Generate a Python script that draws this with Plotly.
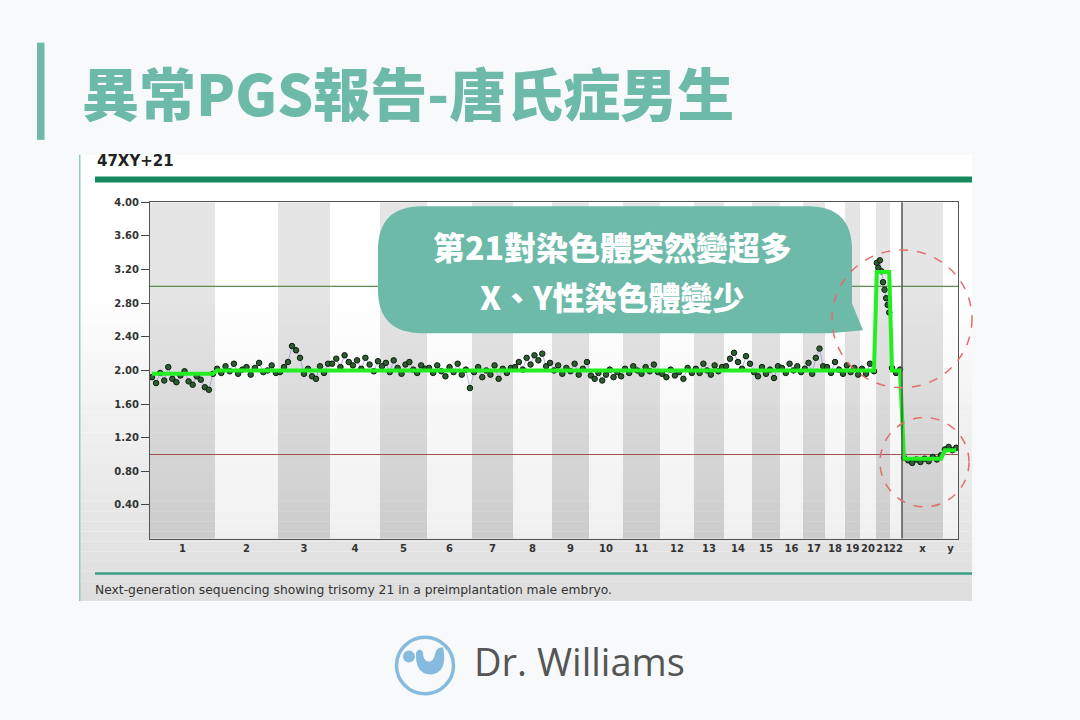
import plotly.graph_objects as go

# ---------------- data ----------------
CHROM_LABELS = ['1', '2', '3', '4', '5', '6', '7', '8', '9', '10', '11', '12',
                '13', '14', '15', '16', '17', '18', '19', '20', '21', '22', 'x', 'y']
# relative width of each chromosome on the genome axis (bins)
CHROM_WIDTHS = [65, 63, 52, 50, 47, 45, 41, 39, 37, 34, 37, 34,
                30, 28, 28, 23, 22, 20, 15, 16, 14, 12, 41, 15]
# fitted copy-number level per chromosome (green segments)
SEGMENT_LEVELS = [1.96, 2.0, 2.0, 2.0, 2.0, 2.0, 2.0, 2.0, 2.0, 2.0, 2.0, 2.0,
                  2.0, 2.0, 2.0, 2.0, 2.0, 2.0, 2.0, 2.0, 3.17, 2.0, 0.95, 1.05]

chr1 = [1.92, 1.85, 1.97, 1.88, 2.04, 1.90, 1.86, 1.94, 1.99, 1.87, 1.83, 1.93, 1.89, 1.80, 1.77, 1.96]
chr2 = [2.02, 1.97, 2.05, 1.99, 2.08, 1.96, 2.01, 2.04, 1.95, 2.03, 2.09, 1.98, 2.00, 2.06, 1.97]
chr3 = [1.98, 2.04, 2.10, 2.29, 2.24, 2.15, 1.96, 2.02, 1.93, 1.90, 2.05, 1.97, 2.08]
chr4 = [2.08, 2.14, 2.04, 2.18, 2.10, 2.06, 2.12, 2.02, 2.15, 2.07, 1.99, 2.11]
chr5 = [2.05, 2.09, 1.98, 2.12, 2.03, 1.96, 2.07, 2.10, 2.01, 1.97, 2.06, 2.02]
chr6 = [2.03, 1.97, 2.06, 1.99, 1.93, 2.04, 1.98, 2.08, 1.95, 2.01, 1.79]
chr7 = [1.98, 2.04, 1.92, 2.00, 1.95, 2.06, 1.90, 2.02, 1.97, 2.03]
chr8 = [2.04, 2.10, 2.01, 2.15, 2.07, 2.18, 2.12, 2.20, 2.05, 2.09]
chr9 = [2.00, 2.06, 1.96, 2.03, 1.99, 2.08, 1.95, 2.02, 2.10]
chr10 = [1.94, 1.90, 1.97, 1.88, 1.95, 2.01, 1.92, 1.98, 1.93]
chr11 = [2.02, 1.97, 2.05, 2.00, 1.96, 2.04, 1.99, 2.07, 1.98]
chr12 = [1.96, 1.92, 2.01, 1.94, 1.98, 1.90, 2.03, 1.97]
chr13 = [2.02, 1.97, 2.08, 2.00, 1.95, 2.06, 1.99, 2.04]
chr14 = [2.05, 2.14, 2.21, 2.10, 2.02, 2.17, 2.08]
chr15 = [1.98, 1.93, 2.04, 1.96, 2.01, 1.91, 2.05]
chr16 = [2.03, 1.97, 2.08, 2.00, 2.05, 1.98]
chr17 = [2.02, 2.09, 1.96, 2.15, 2.26, 2.05]
chr18 = [2.04, 1.97, 2.10, 2.01, 1.96]
chr19 = [2.06, 1.98, 2.03, 1.95]
chr20 = [2.02, 1.96, 2.08, 1.99]
chr21 = [3.28, 3.22, 3.31, 3.18, 3.05, 2.96, 2.86, 2.78, 2.69]
chr22 = [2.03, 1.97, 2.01]
chrX = [0.96, 0.93, 0.90, 0.94, 0.91, 0.95, 0.92, 0.97, 0.94, 0.99]
chrY = [1.06, 1.09, 1.05, 1.08]

ALL_VALUES = [chr1, chr2, chr3, chr4, chr5, chr6, chr7, chr8, chr9, chr10, chr11, chr12,
              chr13, chr14, chr15, chr16, chr17, chr18, chr19, chr20, chr21, chr22, chrX, chrY]

Y_TICKS = [0.4, 0.8, 1.2, 1.6, 2.0, 2.4, 2.8, 3.2, 3.6, 4.0]
TRISOMY_LINE = 3.0
MONOSOMY_LINE = 1.0

TITLE = '異常PGS報告-唐氏症男生'
KARYOTYPE = '47XY+21'
CAPTION = 'Next-generation sequencing showing trisomy 21 in a preimplantation male embryo.'
BUBBLE_LINES = ['第21對染色體突然變超多', 'X、Y性染色體變少']
BRAND = 'Dr. Williams'

# ---------------- geometry helpers ----------------
W, H = 1080, 720


def px(x):
    return x / W


def py(y):
    return 1 - y / H


starts = []
acc = 0
for w in CHROM_WIDTHS:
    starts.append(acc)
    acc += w
TOTAL = acc
centers = [s + w / 2 for s, w in zip(starts, CHROM_WIDTHS)]

xs, ys, seg_x, seg_y = [], [], [], []
for s, w, vals, lvl in zip(starts, CHROM_WIDTHS, ALL_VALUES, SEGMENT_LEVELS):
    n = len(vals)
    pos = [s + (k + 0.5) * w / n for k in range(n)]
    xs += pos
    ys += vals
    seg_x += [pos[0], pos[-1]]
    seg_y += [lvl, lvl]

fig = go.Figure()
fig.add_trace(go.Scatter(x=xs, y=ys, mode='lines',
                         line=dict(color='rgba(120,120,210,0.55)', width=1),
                         hoverinfo='skip', showlegend=False))
fig.add_trace(go.Scatter(x=xs, y=ys, mode='markers',
                         marker=dict(size=5.5, color='#2f5d32',
                                     line=dict(color='#0c1c0c', width=1)),
                         showlegend=False))
fig.add_trace(go.Scatter(x=seg_x, y=seg_y, mode='lines',
                         line=dict(color='#22ee22', width=4),
                         hoverinfo='skip', showlegend=False))

shapes = []
# page panel background with soft vertical gradient
shapes.append(dict(type='rect', xref='paper', yref='paper', layer='below',
                   x0=px(79), x1=px(972), y0=py(600), y1=py(150),
                   fillcolor='#ffffff', line=dict(width=0)))
n_strips = 30
for i in range(n_strips):
    y0 = 300 + i * 10
    g = int(255 - (i + 1) * 33 / n_strips)
    shapes.append(dict(type='rect', xref='paper', yref='paper', layer='below',
                       x0=px(79), x1=px(972), y0=py(y0 + 10), y1=py(y0),
                       fillcolor=f'rgb({g},{g},{g})', line=dict(width=0)))
shapes.append(dict(type='rect', xref='paper', yref='paper', layer='below',
                   x0=px(79), x1=px(80.5), y0=py(600), y1=py(150),
                   fillcolor='#8fcbbb', line=dict(width=0)))

# chromosome bands
for i, (s, w) in enumerate(zip(starts, CHROM_WIDTHS)):
    if i % 2 == 0:
        col = 'rgba(0,0,0,0.10)'
    else:
        col = 'rgba(255,255,255,0.45)'
    shapes.append(dict(type='rect', xref='x', yref='y domain', layer='below',
                       x0=s, x1=s + w, y0=0, y1=1, fillcolor=col, line=dict(width=0)))

# reference lines
shapes.append(dict(type='line', xref='x domain', yref='y', x0=0, x1=1,
                   y0=TRISOMY_LINE, y1=TRISOMY_LINE, layer='below',
                   line=dict(color='#5c8f52', width=1.2)))
shapes.append(dict(type='line', xref='x domain', yref='y', x0=0, x1=1,
                   y0=MONOSOMY_LINE, y1=MONOSOMY_LINE, layer='below',
                   line=dict(color='#a05252', width=1.2)))
# autosome / sex chromosome divider
sex_start = starts[22]
shapes.append(dict(type='line', xref='x', yref='y domain', x0=sex_start, x1=sex_start,
                   y0=0, y1=1, line=dict(color='#555555', width=1.5)))

# header decorations
shapes.append(dict(type='rect', xref='paper', yref='paper',
                   x0=px(37), x1=px(44.5), y0=py(135), y1=py(37),
                   fillcolor='#6dbaa9', line=dict(width=0)))
shapes.append(dict(type='rect', xref='paper', yref='paper',
                   x0=px(95), x1=px(972), y0=py(178), y1=py(172),
                   fillcolor='#15895d', line=dict(width=0)))
shapes.append(dict(type='rect', xref='paper', yref='paper',
                   x0=px(95), x1=px(972), y0=py(573.5), y1=py(571),
                   fillcolor='#3d9e86', line=dict(width=0)))


def P(x, y):
    return f'{px(x):.5f},{py(y):.5f}'


# speech bubble
L, R, T, B, r = 378, 852, 202, 330, 44
bubble = (f'M {P(L + r, T)} L {P(R - r, T)} Q {P(R, T)} {P(R, T + r)} '
          f'L {P(R, 300)} L {P(863, 327)} L {P(830, B)} '
          f'L {P(L + r, B)} Q {P(L, B)} {P(L, B - r)} L {P(L, T + r)} Q {P(L, T)} {P(L + r, T)} Z')
shapes.append(dict(type='path', xref='paper', yref='paper', path=bubble,
                   fillcolor='#6dbaa9', line=dict(width=0), layer='above'))

# dashed highlight circles
shapes.append(dict(type='circle', xref='paper', yref='paper',
                   x0=px(832), x1=px(972), y0=py(385), y1=py(246),
                   line=dict(color='#e36d6d', width=1.5, dash='dash')))
shapes.append(dict(type='circle', xref='paper', yref='paper',
                   x0=px(880), x1=px(969), y0=py(505), y1=py(415),
                   line=dict(color='#e36d6d', width=1.5, dash='dash')))

# logo
shapes.append(dict(type='circle', xref='paper', yref='paper',
                   x0=px(396.5), x1=px(453.5), y0=py(693.5), y1=py(636.5),
                   line=dict(color='#86bbdf', width=3.5)))
shapes.append(dict(type='circle', xref='paper', yref='paper',
                   x0=px(403), x1=px(415), y0=py(662), y1=py(650),
                   fillcolor='#86bbdf', line=dict(width=0)))
blob = (f'M {P(416, 652)} Q {P(415, 675)} {P(432, 674)} Q {P(446, 672)} {P(444, 652)} '
        f'L {P(443, 647)} Q {P(436, 646)} {P(435, 654)} Q {P(433, 662)} {P(428, 661)} '
        f'Q {P(423, 660)} {P(423, 652)} Q {P(420, 646)} {P(416, 652)} Z')
shapes.append(dict(type='path', xref='paper', yref='paper', path=blob,
                   fillcolor='#86bbdf', line=dict(width=0)))

annotations = [
    dict(x=px(80), y=py(86), xref='paper', yref='paper', xanchor='left', yanchor='middle',
         text=TITLE, showarrow=False,
         font=dict(family='Noto Sans CJK TC', size=57, color='#6dbaa9', weight=900)),
    dict(x=px(95), y=py(156), xref='paper', yref='paper', xanchor='left', yanchor='middle',
         text=f'<b>{KARYOTYPE}</b>', showarrow=False,
         font=dict(family='DejaVu Sans', size=15, color='#222222')),
    dict(x=px(93), y=py(589), xref='paper', yref='paper', xanchor='left', yanchor='middle',
         text=CAPTION, showarrow=False,
         font=dict(family='DejaVu Sans', size=12.3, color='#333333')),
    dict(x=px(612), y=py(242), xref='paper', yref='paper', xanchor='center', yanchor='middle',
         text=BUBBLE_LINES[0], showarrow=False,
         font=dict(family='Noto Sans CJK TC', size=32, color='#ffffff', weight=900)),
    dict(x=px(612), y=py(292), xref='paper', yref='paper', xanchor='center', yanchor='middle',
         text=BUBBLE_LINES[1], showarrow=False,
         font=dict(family='Noto Sans CJK TC', size=32, color='#ffffff', weight=900)),
    dict(x=px(472), y=py(661), xref='paper', yref='paper', xanchor='left', yanchor='middle',
         text=BRAND, showarrow=False,
         font=dict(family='Open Sans', size=38, color='#555555')),
]

fig.update_layout(
    width=W, height=H,
    margin=dict(l=0, r=0, t=0, b=0),
    paper_bgcolor='#f7f9fb',
    plot_bgcolor='rgba(0,0,0,0)',
    showlegend=False,
    shapes=shapes,
    annotations=annotations,
    xaxis=dict(domain=[px(150), px(958)], range=[0, TOTAL],
               tickvals=centers, ticktext=CHROM_LABELS, ticks='', tickangle=0,
               showline=True, mirror=True, linecolor='#555555', linewidth=1.2,
               showgrid=False, zeroline=False, fixedrange=True,
               tickfont=dict(family='DejaVu Sans', size=10, color='#333333', weight='bold')),
    yaxis=dict(domain=[1 - 537 / H, 1 - 198 / H], range=[0, 4.0],
               tickvals=Y_TICKS, ticktext=[f'{v:.2f}' for v in Y_TICKS],
               ticks='outside', ticklen=8, tickcolor='#444444',
               showline=True, mirror=True, linecolor='#555555', linewidth=1.2,
               showgrid=False, zeroline=False, fixedrange=True,
               tickfont=dict(family='DejaVu Sans', size=10, color='#333333', weight='bold')),
)

fig.write_html('out.html', config={'displayModeBar': False},
               post_script="document.body.style.margin='0';document.body.style.overflow='hidden';")
